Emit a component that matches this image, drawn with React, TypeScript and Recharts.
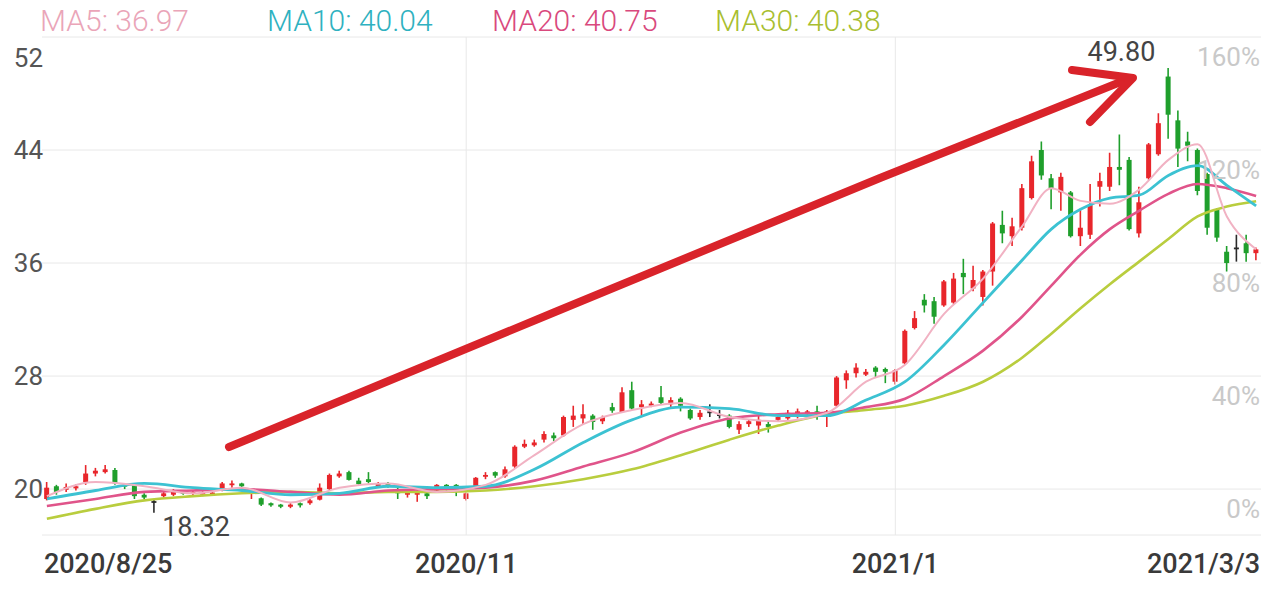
import React from 'react';
import {
  ComposedChart,
  Bar,
  Line,
  XAxis,
  YAxis,
  CartesianGrid,
  ReferenceLine,
  ReferenceDot,
} from 'recharts';

// daily candles, 2020/8/25 .. 2021/3/3
const opens = [
  19.3, 20.2, 19.95, 20.05, 20.5, 21.1, 21.2, 21.35, 20.3, 20.3, 19.6, 19.15, 19.5, 19.6, 19.8, 19.7, 19.6, 19.7, 19.9, 20.3,
  20.4, 19.8, 19.35, 19.0, 18.9, 18.75, 19.0, 19.0, 19.25, 20.0, 20.9, 21.2, 20.6, 20.7, 20.2, 20.4, 20.0, 19.6, 19.6, 19.7,
  19.9, 20.3, 20.3, 19.3, 20.1, 20.9, 21.2, 20.9, 21.6, 23.0, 23.1, 23.5, 23.8, 23.8, 24.9, 25.0, 25.2, 24.8, 25.8, 25.45,
  27.0, 25.8, 25.9, 26.5, 26.0, 26.4, 25.6, 25.1, 25.5, 25.3, 25.2, 24.2, 24.6, 24.5, 24.6, 24.9, 25.0, 25.1, 25.3, 25.5,
  25.2, 25.9, 27.7, 28.2, 28.1, 28.6, 28.5, 27.6, 28.9, 31.4, 33.4, 33.3, 33.0, 33.2, 35.3, 34.2, 33.6, 35.4, 38.7, 37.9,
  38.5, 40.6, 44.0, 42.0, 41.0, 41.0, 37.9, 38.0, 41.4, 41.4, 42.8, 43.3, 38.1, 42.0, 43.7, 49.2, 46.1, 44.6, 44.0, 42.3,
  39.8, 36.8, 37.1, 37.4, 36.7,
];
const closes = [
  20.1, 19.8, 20.15, 20.2, 21.1, 21.3, 21.4, 20.4, 20.2, 19.5, 19.4, 19.15, 19.7, 19.9, 19.7, 19.8, 19.8, 19.75, 20.4, 20.4,
  20.2, 19.85, 18.9, 18.85, 18.75, 18.9, 18.85, 19.2, 20.1, 21.0, 21.1, 20.65, 20.35, 20.5, 20.4, 20.2, 19.7, 19.75, 19.8, 19.5,
  20.3, 19.95, 19.9, 19.7, 20.8, 21.0, 20.95, 21.4, 23.0, 23.2, 23.3, 23.9, 23.6, 25.1, 25.2, 25.3, 24.75, 25.1, 25.55, 26.85,
  25.7, 26.0, 26.05, 26.1, 26.3, 25.9, 25.0, 25.4, 25.5, 25.3, 24.4, 24.6, 24.8, 24.9, 24.4, 25.1, 25.4, 25.5, 25.5, 25.3,
  25.5, 27.9, 28.2, 28.6, 28.3, 28.3, 28.3, 28.4, 31.2, 32.1, 33.0, 32.2, 34.7, 34.9, 35.0, 34.8, 35.4, 38.8, 38.1, 38.6,
  41.3, 43.2, 42.2, 41.3, 42.1, 37.9, 38.5, 40.1, 41.8, 42.8, 42.6, 38.4, 40.3, 44.4, 45.9, 46.5, 44.1, 44.3, 41.1, 38.5,
  37.8, 36.0, 37.1, 36.7, 36.97,
];
const highs = [
  20.5, 20.3, 20.4, 20.35, 21.7, 21.5, 21.7, 21.5, 20.4, 20.4, 19.7, 19.3, 19.8, 20.0, 19.9, 19.9, 19.9, 19.9, 20.5, 20.6,
  20.45, 19.9, 19.4, 19.05, 18.95, 19.0, 19.05, 19.3, 20.4, 21.1, 21.3, 21.3, 20.8, 21.2, 20.5, 20.5, 20.1, 19.8, 19.9, 19.8,
  20.35, 20.35, 20.35, 19.75, 20.85, 21.2, 21.25, 21.6, 23.1, 23.5, 23.5, 24.1, 24.0, 25.2, 25.9, 26.0, 25.3, 25.2, 26.1, 27.2,
  27.6, 26.3, 26.2, 27.3, 26.5, 26.5, 25.7, 25.6, 26.0, 25.6, 25.3, 24.8, 24.9, 25.2, 24.8, 25.2, 25.6, 25.7, 25.6, 25.9,
  25.6, 28.0, 28.4, 28.9, 28.5, 28.7, 28.6, 28.5, 31.3, 32.6, 33.8, 33.6, 34.8, 35.3, 36.3, 35.8, 35.5, 38.9, 39.7, 39.2,
  41.6, 43.6, 44.6, 42.3, 42.4, 41.1, 39.8, 41.6, 42.4, 43.8, 45.1, 43.5, 41.4, 44.5, 46.6, 49.8, 46.8, 45.3, 44.1, 42.4,
  39.9, 37.2, 38.0, 38.0, 37.1,
];
const lows = [
  19.2, 19.6, 19.8, 19.9, 20.3, 20.9, 21.1, 20.3, 20.0, 19.3, 19.3, 18.32, 19.4, 19.5, 19.6, 19.5, 19.5, 19.6, 19.85, 20.1,
  20.1, 19.3, 18.8, 18.75, 18.65, 18.65, 18.7, 18.9, 19.2, 19.9, 20.8, 20.6, 20.3, 20.4, 20.1, 20.1, 19.3, 19.4, 19.1, 19.3,
  19.85, 19.9, 19.5, 19.2, 20.0, 20.7, 20.8, 20.8, 21.5, 22.9, 23.0, 23.3, 23.4, 23.7, 24.4, 24.6, 24.2, 24.6, 25.4, 25.4,
  25.6, 25.2, 25.8, 26.0, 25.8, 25.5, 24.9, 24.9, 25.1, 25.0, 24.3, 23.9, 24.4, 23.9, 24.0, 24.8, 24.9, 25.0, 25.2, 24.9,
  24.4, 25.8, 27.1, 27.9, 28.0, 27.9, 27.5, 27.4, 28.8, 31.3, 32.5, 31.7, 32.9, 33.1, 33.8, 34.0, 33.0, 34.4, 37.4, 37.2,
  38.3, 40.5, 41.9, 39.8, 39.7, 37.8, 37.2, 37.7, 40.0, 41.1, 41.5, 38.3, 37.8, 41.9, 43.6, 44.8, 42.8, 43.2, 40.8, 38.0,
  37.5, 35.4, 36.1, 36.1, 36.2,
];

// moving averages, read at these candle positions
const maIdx = [0, 5, 10, 15, 20, 25, 30, 35, 40, 45, 50, 55, 60, 65, 70, 75, 80, 84, 88, 92, 96, 100, 103, 106, 109, 112, 115, 118, 121, 124];
const ma5 = [19.5, 20.5, 20.2, 19.7, 20.1, 19.05, 20.1, 20.4, 19.8, 20.3, 22.4, 24.6, 25.6, 26.1, 25.1, 24.8, 25.4, 27.6, 28.8, 32.4, 34.9, 38.6, 41.3, 40.4, 40.2, 41.2, 43.3, 44.4, 39.3, 36.97];
const ma10 = [19.3, 19.9, 20.4, 20.1, 19.9, 19.6, 19.7, 20.2, 20.1, 20.2, 21.4, 23.3, 24.9, 25.8, 25.7, 25.2, 25.2, 26.3, 27.6, 30.2, 33.2, 36.2, 38.4, 39.8, 40.6, 40.8, 42.2, 42.9, 41.5, 40.04];
const ma20 = [18.8, 19.3, 19.8, 19.9, 20.0, 19.8, 19.6, 19.9, 20.0, 20.1, 20.6, 21.6, 22.6, 24.0, 25.0, 25.3, 25.4, 25.8, 26.4, 28.0, 29.8, 32.2, 34.4, 36.6, 38.4, 39.7, 40.9, 41.6, 41.3, 40.75];
const ma30 = [17.9, 18.6, 19.2, 19.5, 19.7, 19.8, 19.7, 19.8, 19.8, 19.9, 20.2, 20.7, 21.4, 22.4, 23.5, 24.5, 25.3, 25.6, 25.9, 26.6, 27.6, 29.3, 31.0, 32.8, 34.5, 36.1, 37.7, 39.3, 40.0, 40.38];

const priceTicks = [20, 28, 36, 44, 52];
const pctLabels = ['0%', '40%', '80%', '120%', '160%'];
const xTickIdx = [0, 43, 87, 124];
const xTickLabels = ['2020/8/25', '2020/11', '2021/1', '2021/3/3'];
const legendNames = ['MA5', 'MA10', 'MA20', 'MA30'];
const legendValues = ['36.97', '40.04', '40.75', '40.38'];
const lowMark = { i: 11, value: 18.32 };
const highMark = { i: 115, value: 49.8 };

const UP = '#e8262b';
const DOWN = '#1f9f2c';
const FLAT = '#2a2a2a';
const lineColors = ['#f1b2c3', '#3cc2d2', '#e0548a', '#b9cd3e'];
const legendColors = ['#eaa5b8', '#2fb1c0', '#d9497d', '#a8be30'];
const FONT = 'Roboto, "Liberation Sans", Arial, sans-serif';

const rows = opens.map((o, i) => {
  const k = maIdx.indexOf(i);
  return {
    i,
    open: o,
    close: closes[i],
    high: highs[i],
    low: lows[i],
    range: [lows[i], highs[i]],
    ma5: k >= 0 ? ma5[k] : null,
    ma10: k >= 0 ? ma10[k] : null,
    ma20: k >= 0 ? ma20[k] : null,
    ma30: k >= 0 ? ma30[k] : null,
  };
});

const Candle = (props: any) => {
  const { x, y, width, height, payload } = props;
  if (!payload || height == null) return null;
  const { open, close, high, low } = payload;
  const k = height / (high - low || 1);
  const yO = y + (high - open) * k;
  const yC = y + (high - close) * k;
  const color = close > open ? UP : close < open ? DOWN : FLAT;
  const cx = x + width / 2;
  const top = Math.min(yO, yC);
  const h = Math.max(Math.abs(yO - yC), 1.8);
  return (
    <g>
      <line x1={cx} x2={cx} y1={y} y2={y + height} stroke={color} strokeWidth={1.6} />
      <rect x={x} y={top} width={width} height={h} fill={color} />
    </g>
  );
};

const LeftTick = (props: any) => {
  const { x, y, index } = props;
  const top = index === priceTicks.length - 1;
  return (
    <text x={x + 1} y={top ? y + 21 : y} textAnchor='end' dominantBaseline='central' fontSize={26} fill='#555' fontFamily={FONT}>
      {priceTicks[index]}
    </text>
  );
};

const RightTick = (props: any) => {
  const { x, y, index } = props;
  return (
    <text x={x - 1} y={y + 20} textAnchor='end' dominantBaseline='central' fontSize={26} fill='#c9c9c9' fontFamily={FONT}>
      {pctLabels[index]}
    </text>
  );
};

const XTick = (props: any) => {
  const { x, y, payload } = props;
  const k = xTickIdx.indexOf(payload.value);
  if (k < 0) return null;
  const anchor = k === 0 ? 'start' : k === xTickIdx.length - 1 ? 'end' : 'middle';
  const dx = k === 0 ? -3 : k === xTickIdx.length - 1 ? 4 : 0;
  return (
    <text x={x + dx} y={y + 38} textAnchor={anchor} fontSize={27} fontWeight={500} fill='#3a3a3a' fontFamily={FONT}>
      {xTickLabels[k]}
    </text>
  );
};

export default function App() {
  return (
    <div style={{ position: 'absolute', left: 0, top: 0, width: 1280, height: 594, background: '#fff' }}>
      <ComposedChart
        width={1280}
        height={594}
        data={rows}
        margin={{ top: 37, right: 0, bottom: 0, left: 0 }}
        barCategoryGap='22%'
      >
        <CartesianGrid vertical={false} stroke='#e8e8e8' />
        <ReferenceLine x={43} stroke='#e8e8e8' />
        <ReferenceLine x={87} stroke='#e8e8e8' />
        <XAxis
          dataKey='i'
          type='category'
          ticks={xTickIdx}
          interval={0}
          tick={<XTick />}
          tickLine={false}
          axisLine={false}
          tickSize={0}
          tickMargin={0}
          height={59}
        />
        <YAxis
          domain={[16.75, 52]}
          ticks={priceTicks}
          width={42}
          tick={<LeftTick />}
          tickLine={false}
          axisLine={false}
          tickSize={0}
          tickMargin={0}
          allowDataOverflow
        />
        <YAxis
          yAxisId='r'
          orientation='right'
          domain={[16.75, 52]}
          ticks={priceTicks}
          width={19}
          tick={<RightTick />}
          tickLine={false}
          axisLine={false}
          tickSize={0}
          tickMargin={0}
          allowDataOverflow
        />
        <Bar dataKey='range' shape={Candle} isAnimationActive={false} />
        <Line type='monotone' dataKey='ma30' stroke={lineColors[3]} strokeWidth={2.6} dot={false} activeDot={false} connectNulls isAnimationActive={false} />
        <Line type='monotone' dataKey='ma20' stroke={lineColors[2]} strokeWidth={2.6} dot={false} activeDot={false} connectNulls isAnimationActive={false} />
        <Line type='monotone' dataKey='ma10' stroke={lineColors[1]} strokeWidth={2.8} dot={false} activeDot={false} connectNulls isAnimationActive={false} />
        <Line type='monotone' dataKey='ma5' stroke={lineColors[0]} strokeWidth={2} dot={false} activeDot={false} connectNulls isAnimationActive={false} />
        <ReferenceDot
          x={lowMark.i}
          y={lowMark.value}
          shape={(p: any) => (
            <text x={p.cx + 8} y={p.cy + 23} fontSize={27} fill='#444' fontFamily={FONT}>
              {lowMark.value.toFixed(2)}
            </text>
          )}
        />
        <ReferenceDot
          x={highMark.i}
          y={highMark.value}
          shape={(p: any) => (
            <text x={p.cx - 13} y={p.cy - 7} textAnchor='end' fontSize={27} fill='#444' fontFamily={FONT}>
              {highMark.value.toFixed(2)}
            </text>
          )}
        />
      </ComposedChart>
      <svg width={1280} height={594} style={{ position: 'absolute', left: 0, top: 0, pointerEvents: 'none' }}>
        {legendNames.map((n, k) => (
          <text key={n} x={[40, 267, 492, 715][k]} y={31} fontSize={30} fontWeight={300} fill={legendColors[k]} fontFamily={FONT}>
            {n}: {legendValues[k]}
          </text>
        ))}
        <polyline
          points='229,447 555,312 880,178 1128,79'
          fill='none'
          stroke='#d9232a'
          strokeWidth={8}
          strokeLinecap='round'
          strokeLinejoin='round'
        />
        <polyline
          points='1072,70 1133,78 1090,122'
          fill='none'
          stroke='#d9232a'
          strokeWidth={8}
          strokeLinecap='round'
          strokeLinejoin='round'
        />
      </svg>
    </div>
  );
}
